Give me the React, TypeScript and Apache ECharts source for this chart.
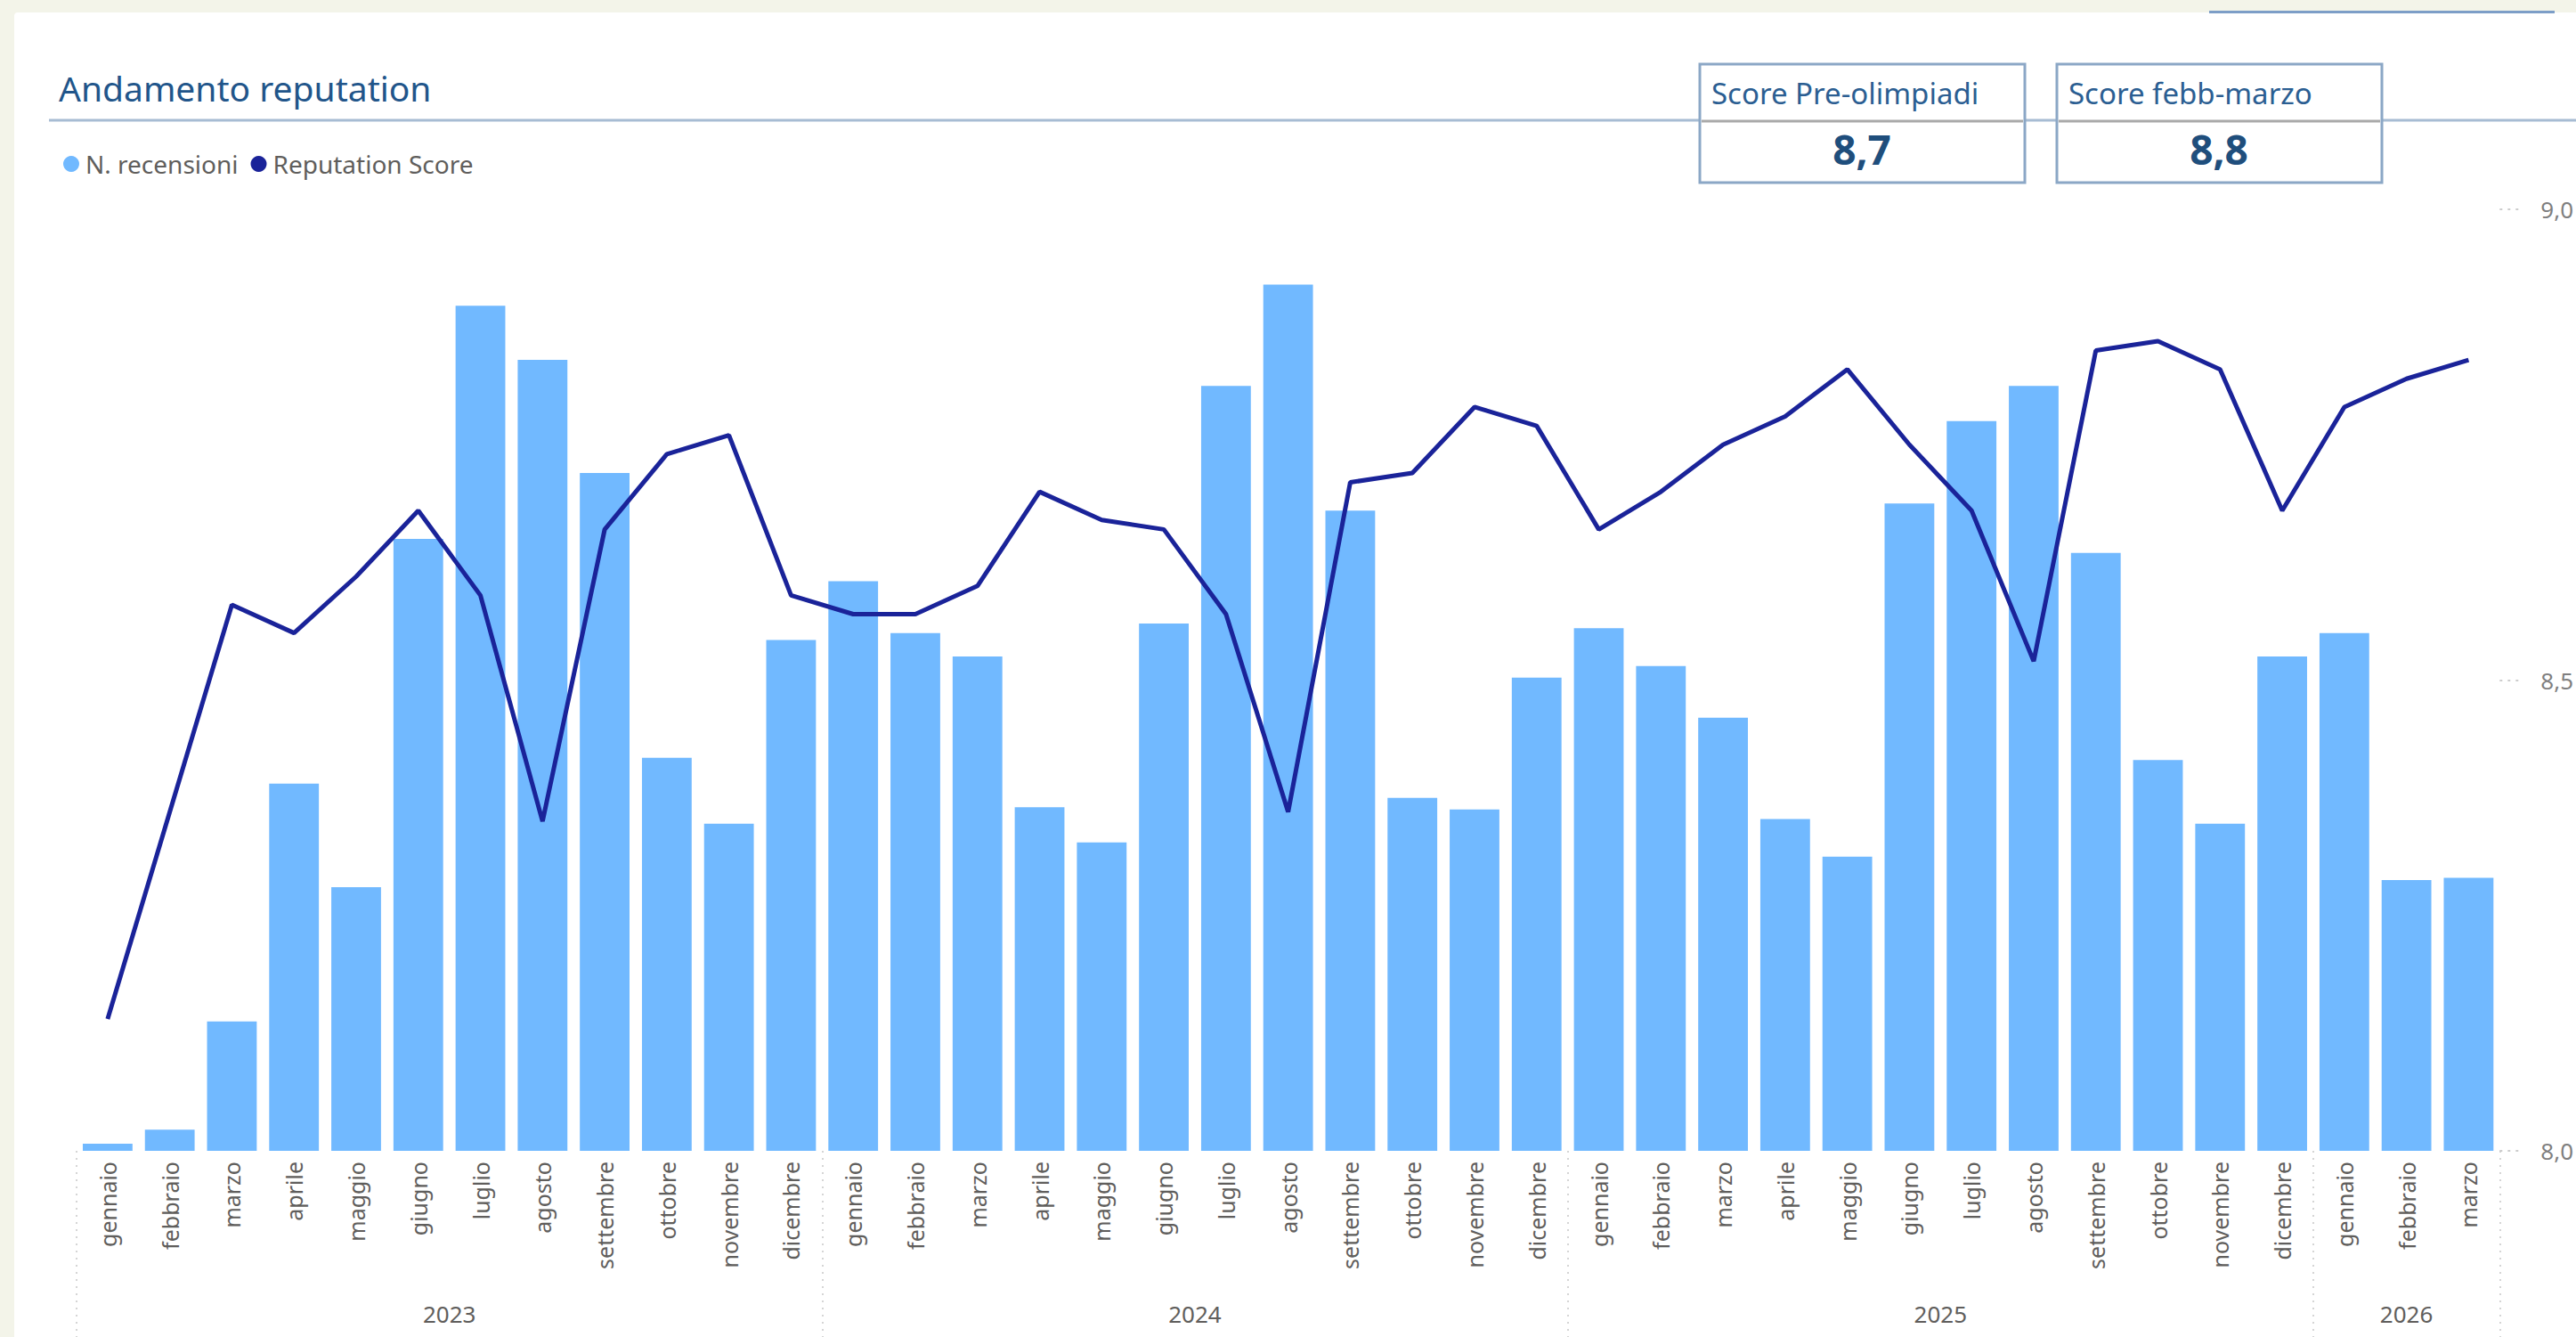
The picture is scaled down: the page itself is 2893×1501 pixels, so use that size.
import React, { useEffect, useRef } from "react";
import * as echarts from "echarts";

const monthNames = [
  "gennaio", "febbraio", "marzo", "aprile", "maggio", "giugno",
  "luglio", "agosto", "settembre", "ottobre", "novembre", "dicembre",
];
const years = ["2023", "2024", "2025", "2026"];
const monthsPerYear = [12, 12, 12, 3];

const reviewCounts = [
  3, 9, 55, 156, 112, 260, 359, 336, 288, 167, 139, 217,
  242, 220, 210, 146, 131, 224, 325, 368, 272, 150, 145, 201,
  222, 206, 184, 141, 125, 275, 310, 325, 254, 166, 139, 210,
  220, 115, 116,
];
const reputationScore = [
  8.14, 8.36, 8.58, 8.55, 8.61, 8.68, 8.59, 8.35, 8.66, 8.74, 8.76, 8.59,
  8.57, 8.57, 8.60, 8.70, 8.67, 8.66, 8.57, 8.36, 8.71, 8.72, 8.79, 8.77,
  8.66, 8.70, 8.75, 8.78, 8.83, 8.75, 8.68, 8.52, 8.85, 8.86, 8.83, 8.68,
  8.79, 8.82, 8.84,
];
const scoreMin = 8;
const scoreMax = 9;
const scoreStep = 0.5;
const kpiPreOlimpiadi = "8,7";
const kpiFebbMarzo = "8,8";

const FONT = "'Noto Sans', 'Open Sans', sans-serif";

export default function App() {
  const ref = useRef<HTMLDivElement>(null);

  useEffect(() => {
    const chart = echarts.init(ref.current as HTMLDivElement, null, { renderer: "svg" });

    const categories: string[] = [];
    const yearCenters: number[] = [];
    const yearBounds: number[] = [0];
    let start = 0;
    years.forEach((_, i) => {
      for (let m = 0; m < monthsPerYear[i]; m++) categories.push(monthNames[m]);
      yearCenters.push(start + monthsPerYear[i] / 2);
      start += monthsPerYear[i];
      yearBounds.push(start);
    });

    const kpiBox = (x: number, title: string, value: string) => ({
      type: "group",
      children: [
        {
          type: "rect",
          shape: { x, y: 72, width: 365, height: 133 },
          style: { fill: "#ffffff", stroke: "#8ba7c6", lineWidth: 3 },
        },
        {
          type: "line",
          shape: { x1: x + 2, y1: 136, x2: x + 363, y2: 136 },
          style: { stroke: "#a9a9a9", lineWidth: 3 },
        },
        {
          type: "text",
          x: x + 13,
          y: 104,
          style: {
            text: title,
            fontSize: 33,
            fontFamily: FONT,
            fill: "#2b5e92",
            verticalAlign: "middle",
            align: "left",
          },
        },
        {
          type: "text",
          x: x + 182,
          y: 167,
          style: {
            text: value,
            fontSize: 46,
            fontWeight: "bold",
            fontFamily: FONT,
            fill: "#1f4e7c",
            verticalAlign: "middle",
            align: "center",
          },
        },
      ],
    });

    chart.setOption({
      animation: false,
      textStyle: { fontFamily: FONT },
      legend: {
        left: 66,
        top: 165,
        icon: "circle",
        itemWidth: 18,
        itemHeight: 18,
        itemGap: 14,
        textStyle: { fontSize: 28, color: "#605e5c", fontFamily: FONT, padding: [0, 0, 0, 2] },
        data: ["N. recensioni", "Reputation Score"],
      },
      grid: { left: 86, right: 78, top: 235, bottom: 209, containLabel: false },
      xAxis: [
        {
          type: "category",
          data: categories,
          axisLine: { show: false },
          axisTick: { show: false },
          axisLabel: {
            interval: 0,
            rotate: 90,
            margin: 12,
            fontSize: 25,
            color: "#605e5c",
            fontFamily: FONT,
          },
        },
        {
          type: "value",
          position: "bottom",
          min: 0,
          max: categories.length,
          axisLine: { show: false },
          splitLine: { show: false },
          axisTick: {
            show: true,
            customValues: yearBounds,
            length: 209,
            lineStyle: { color: "#c8c8c8", width: 1.5, type: [2, 6] },
          },
          axisLabel: {
            customValues: yearCenters,
            margin: 170,
            fontSize: 26,
            color: "#605e5c",
            fontFamily: FONT,
            formatter: (v: number) => {
              const i = yearCenters.indexOf(v);
              return i >= 0 ? years[i] : "";
            },
          },
        },
      ],
      yAxis: [
        {
          type: "value",
          min: 0,
          max: 400,
          show: false,
          splitLine: { show: false },
        },
        {
          type: "value",
          position: "right",
          min: scoreMin,
          max: scoreMax,
          interval: scoreStep,
          axisLine: { show: false },
          splitLine: { show: false },
          axisTick: {
            show: true,
            length: 25,
            lineStyle: { color: "#bdbdbd", width: 1.5, type: [3, 6] },
          },
          axisLabel: {
            margin: 46,
            fontSize: 26,
            color: "#7f7f7f",
            fontFamily: FONT,
            formatter: (v: number) => v.toFixed(1).replace(".", ","),
          },
        },
      ],
      series: [
        {
          name: "N. recensioni",
          type: "bar",
          xAxisIndex: 0,
          yAxisIndex: 0,
          data: reviewCounts,
          barCategoryGap: "20%",
          itemStyle: { color: "#71b9ff" },
        },
        {
          name: "Reputation Score",
          type: "line",
          xAxisIndex: 0,
          yAxisIndex: 1,
          data: reputationScore,
          symbol: "none",
          lineStyle: { color: "#1a2399", width: 5 },
          itemStyle: { color: "#1a2399" },
        },
      ],
      graphic: [
        {
          type: "rect",
          shape: { x: 2481, y: 12, width: 388, height: 3 },
          style: { fill: "#7d9ec7" },
        },
        {
          type: "line",
          shape: { x1: 55, y1: 135, x2: 2893, y2: 135 },
          style: { stroke: "#a7bcd3", lineWidth: 3 },
        },
        {
          type: "text",
          x: 66,
          y: 98,
          style: {
            text: "Andamento reputation",
            fontSize: 39,
            fontFamily: FONT,
            fill: "#21558a",
            verticalAlign: "middle",
            align: "left",
          },
        },
        kpiBox(1909, "Score Pre-olimpiadi", kpiPreOlimpiadi),
        kpiBox(2310, "Score febb-marzo", kpiFebbMarzo),
      ],
    });

    return () => chart.dispose();
  }, []);

  return (
    <div
      style={{
        position: "fixed",
        left: 0,
        top: 0,
        width: 2893,
        height: 1501,
        background: "#f3f4e9",
        overflow: "hidden",
      }}
    >
      <div
        style={{
          position: "absolute",
          left: 16,
          top: 14,
          right: 0,
          bottom: 0,
          background: "#ffffff",
          borderTopLeftRadius: 4,
        }}
      />
      <div ref={ref} style={{ position: "absolute", left: 0, top: 0, width: 2893, height: 1501 }} />
    </div>
  );
}
